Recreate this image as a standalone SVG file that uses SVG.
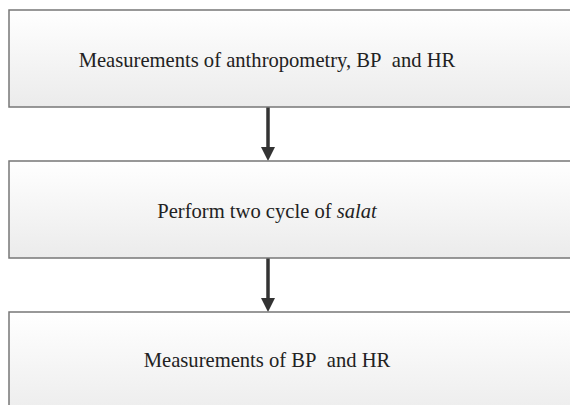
<svg xmlns="http://www.w3.org/2000/svg" width="570" height="405" viewBox="0 0 570 405">
<style>
.box{fill:url(#g);stroke:#777;stroke-width:1.5}
.lbl{font-family:'Liberation Serif','Times New Roman',Times,serif;font-size:20.6px;fill:#222;text-anchor:middle}
.con{stroke:#333;stroke-width:3.5;fill:none}
.head{fill:#333}
</style>
<defs>
<linearGradient id="g" x1="0" y1="0" x2="0" y2="1">
<stop offset="0" stop-color="#ffffff"/>
<stop offset="1" stop-color="#ebebeb"/>
</linearGradient>
</defs>
<rect width="570" height="405" fill="#fff"/>
<g id="connectors">
<line class="con" x1="268" y1="107" x2="268" y2="150"/>
<polygon class="head" points="261,147 275,147 268,161"/>
<line class="con" x1="268" y1="258" x2="268" y2="301"/>
<polygon class="head" points="261,298 275,298 268,312"/>
</g>
<g id="node1">
<rect class="box" x="9" y="10" width="570" height="97"/>
<text class="lbl" x="267" y="67">Measurements of anthropometry, BP&#160; and HR</text>
</g>
<g id="node2">
<rect class="box" x="9" y="161" width="570" height="97"/>
<text class="lbl" x="267" y="218">Perform two cycle of <tspan font-style="italic">salat</tspan></text>
</g>
<g id="node3">
<rect class="box" x="9" y="312" width="570" height="110"/>
<text class="lbl" x="267" y="367">Measurements of BP&#160; and HR</text>
</g>
</svg>
